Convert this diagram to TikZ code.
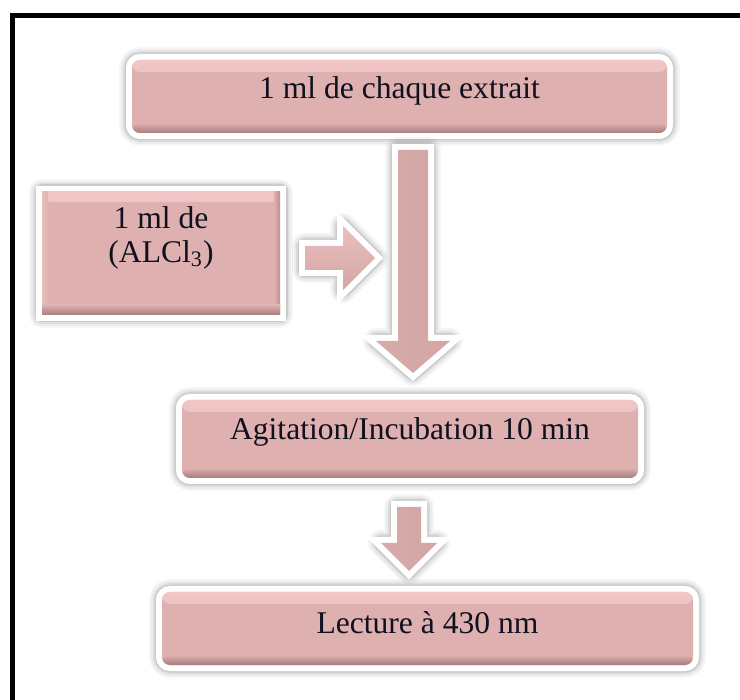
\documentclass[tikz,border=0pt]{standalone}
\usepackage{fontspec}
\setmainfont{Liberation Serif}
\definecolor{pinkmain}{HTML}{DEB0B0}
\definecolor{pinkhi}{HTML}{F2C6C6}
\definecolor{pinkdk}{HTML}{A87C7C}
\definecolor{txtc}{HTML}{10101E}
\tikzset{
  glow/.style={
    preaction={draw=black, draw opacity=0.035, line width=13pt, line join=round},
    preaction={draw=black, draw opacity=0.045, line width=11pt, line join=round},
    preaction={draw=black, draw opacity=0.06, line width=9pt, line join=round},
    preaction={draw=black, draw opacity=0.08, line width=7.5pt, line join=round},
    preaction={draw=white, line width=6pt}},
  pbox/.style={rectangle, rounded corners=4pt, fill=pinkmain, inner sep=0pt, glow,
    path picture={
      \shade[top color=pinkhi, bottom color=pinkmain] (path picture bounding box.north west) rectangle ([yshift=-6pt]path picture bounding box.north east);
      \shade[top color=pinkmain, bottom color=pinkdk] ([yshift=5pt]path picture bounding box.south west) rectangle (path picture bounding box.south east);
    }},
  sbox/.style={rectangle, fill=pinkmain, inner sep=0pt, glow,
    path picture={
      \shade[top color=pinkhi, bottom color=pinkmain] (path picture bounding box.north west) rectangle ([yshift=-5pt]path picture bounding box.north east);
      \shade[left color=pinkhi!60!pinkmain, right color=pinkmain] (path picture bounding box.north west) rectangle ([xshift=3pt]path picture bounding box.south west);
      \shade[left color=pinkmain, right color=pinkdk!60!pinkmain] ([xshift=-3pt]path picture bounding box.north east) rectangle (path picture bounding box.south east);
      \shade[top color=pinkmain, bottom color=pinkdk] ([yshift=5pt]path picture bounding box.south west) rectangle (path picture bounding box.south east);
    }},
  darrow/.style={left color=pinkmain!88!pinkdk, middle color=pinkmain!70!pinkhi, right color=pinkmain!80!pinkdk, glow},
  rarrow/.style={top color=pinkhi!70!pinkmain, bottom color=pinkmain!80!pinkdk, glow},
  txt/.style={font=\fontsize{15.8}{17}\selectfont, text=txtc, inner sep=0pt, align=center},
}
\begin{document}
\begin{tikzpicture}[x=0.5pt, y=-0.5pt]
  \useasboundingbox (0,0) rectangle (740,700);
  \clip (0,0) rectangle (740,700);
  \fill[white] (0,0) rectangle (740,700);
  \draw[line width=2.5pt] (12.5,15.5) rectangle (800,800);

  % boxes
  \node[pbox, minimum width=267.5pt, minimum height=36.5pt] (top) at (399.5,96.5) {};
  \node[sbox, minimum width=119pt, minimum height=61.5pt] (alcl) at (161,253.5) {};
  \node[pbox, minimum width=228pt, minimum height=39pt] (agit) at (410,439) {};
  \node[pbox, minimum width=265.5pt, minimum height=36.5pt] (lect) at (427.5,628.5) {};

  % arrows
  \path[darrow] (398,150) -- (428,150) -- (428,341) -- (450,341) -- (413,373) -- (376,341) -- (398,341) -- cycle;
  \path[rarrow] (305,246) -- (343,246) -- (343,226) -- (375,258) -- (343,290) -- (343,270) -- (305,270) -- cycle;
  \path[darrow] (397,507) -- (421,507) -- (421,543) -- (437,543) -- (409,571) -- (381,543) -- (397,543) -- cycle;

  % texts
  \node[txt] (ttop) at ([yshift=3pt]top.center) {1 ml de chaque extrait};
  \node[txt] (talcl) at ([yshift=8pt]alcl.center) {1 ml de\\(ALCl\textsubscript{3})};
  \node[txt] (tagit) at ([yshift=3.5pt]agit.center) {Agitation/Incubation 10 min};
  \node[txt] (tlect) at ([yshift=3pt]lect.center) {Lecture à 430 nm};
\end{tikzpicture}
\end{document}
